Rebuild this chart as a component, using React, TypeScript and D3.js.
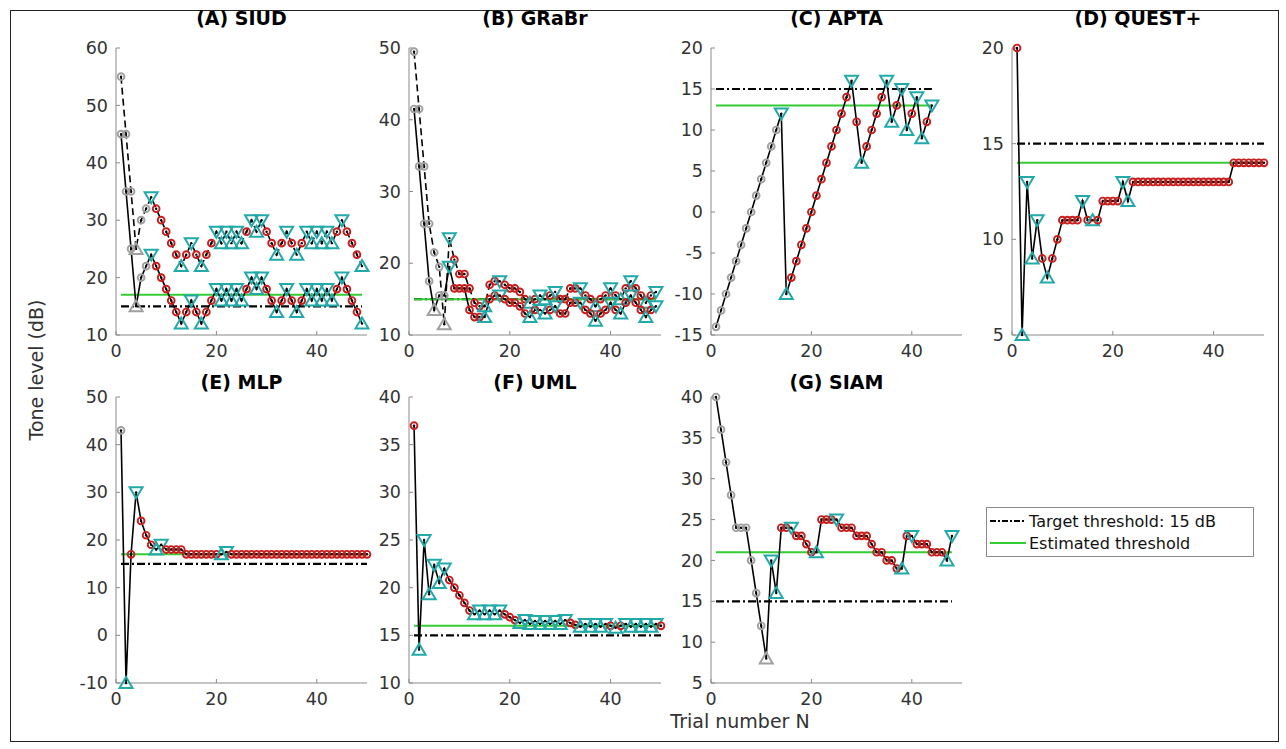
import React from "react";
import * as d3 from "d3";

// trial-by-trial tone levels (dB)
// marker codes: g gray circle, a gray up-tri, o red circle, v peak reversal, ^ trough reversal
const siudUpper = [55, 45, 35, 25, 30, 32, 34, 32, 30, 28, 26, 24, 22, 24, 26, 24, 22, 24, 26, 28, 26, 28, 26, 28, 26, 28, 30, 28, 30, 28, 26, 24, 26, 28, 26, 24, 26, 28, 26, 28, 26, 28, 26, 28, 30, 28, 26, 24, 22];
const siudLower = [45, 35, 25, 15, 20, 22, 24, 22, 20, 18, 16, 14, 12, 14, 16, 14, 12, 14, 16, 18, 16, 18, 16, 18, 16, 18, 20, 18, 20, 18, 16, 14, 16, 18, 16, 14, 16, 18, 16, 18, 16, 18, 16, 18, 20, 18, 16, 14, 12];
const siudMarks = "gggaggvooooo^ovo^oov^v^v^ov^voo^ovo^ov^v^v^ovooo^";

const grabrUpper = [49.5, 41.5, 33.5, 25.5, 21.5, 19.5, 11.5, 23.5, 20.5, 18.5, 18.5, 16.5, 14.5, 14, 14, 17, 17.5, 17.5, 17, 16.5, 16.5, 16, 15, 14.5, 15, 15.5, 15, 15.5, 16, 15, 15, 16.5, 16.5, 16.5, 15.5, 15, 14, 15, 15.5, 16.5, 15.5, 15, 16.5, 17.5, 16.5, 15.5, 14.5, 15.5, 16];
const grabrLower = [41.5, 33.5, 25.5, 17.5, 13.5, 15.5, 15.5, 19.5, 16.5, 16.5, 16.5, 13.5, 12.5, 12.5, 12.5, 15, 15.5, 15.5, 15, 14.5, 14.5, 14, 13, 12.5, 13.5, 13.5, 13, 13.5, 14, 13, 13, 14.5, 14.5, 14.5, 13.5, 13, 12, 13, 13.5, 14.5, 13.5, 13, 14.5, 15.5, 14.5, 13.5, 12.5, 13.5, 14];
const grabrUpperMarks = "ggggggavoooooo^oovooooo^ov^ovoooovoo^oovo^ovoo^ov";
const grabrLowerMarks = "ggggaggvoooooo^oovooooo^ov^ovoooovoo^oovo^ovoo^ov";

const aptaLevels = [-14, -12, -10, -8, -6, -4, -2, 0, 2, 4, 6, 8, 10, 12, -10, -8, -6, -4, -2, 0, 2, 4, 6, 8, 10, 12, 14, 16, 11, 6, 8, 10, 12, 14, 16, 11, 13, 15, 10, 12, 14, 9, 11, 13];
const aptaMarks = "gggggggggggggv^oooooooooooovo^oooov^ov^ov^ov";

const questLevels = [20, 5, 13, 9, 11, 9, 8, 9, 10, 11, 11, 11, 11, 12, 11, 11, 11, 12, 12, 12, 12, 13, 12, 13, 13, 13, 13, 13, 13, 13, 13, 13, 13, 13, 13, 13, 13, 13, 13, 13, 13, 13, 13, 14, 14, 14, 14, 14, 14, 14];
const questMarks = "o^v^vo^oooooovo^ooooov^";

const mlpLevels = [43, -10, 17, 30, 24, 21, 19, 18, 19, 18, 18, 18, 18, 17, 17, 17, 17, 17, 17, 17, 17, 17.5, 17, 17, 17, 17, 17, 17, 17, 17, 17, 17, 17, 17, 17, 17, 17, 17, 17, 17, 17, 17, 17, 17, 17, 17, 17, 17, 17, 17];
const mlpMarks = "g^ovooo^vooooooooooo^v";

const umlLevels = [37, 13.5, 25, 19.3, 22.4, 20.5, 22, 20.8, 20, 19.2, 18.4, 17.6, 17.2, 17.6, 17.2, 17.6, 17.2, 17.6, 17.2, 16.9, 16.6, 16.3, 16.6, 16.2, 16.5, 16.2, 16.5, 16.2, 16.5, 16.2, 16.6, 16.3, 16.1, 15.9, 16.2, 15.9, 16.2, 15.9, 16.2, 16, 15.8, 16, 16.2, 15.9, 16.2, 15.9, 16.2, 15.9, 16.2, 16];
const umlMarks = "o^v^v^vooooo^v^v^vooo^v^v^v^v^voo^v^v^vo^ov^v^v^vo";

const siamLevels = [40, 36, 32, 28, 24, 24, 24, 20, 16, 12, 8, 20, 16, 24, 24, 24, 23, 23, 22, 21, 21, 25, 25, 25, 25, 24, 24, 24, 23, 23, 23, 22, 21, 21, 20, 20, 19, 19, 23, 23, 22, 22, 22, 21, 21, 21, 20, 23];
const siamMarks = "ggggggggggav^oovoooo^ooovoooooooooooo^ovoooooo^v";

const titles = ["(A) SIUD", "(B) GRaBr", "(C) APTA", "(D) QUEST+", "(E) MLP", "(F) UML", "(G) SIAM"];
const estimated = [17, 15, 13, 14, 17, 16, 21];
const target = 15;
const xTicks = [0, 20, 40];

const panels = [
  { col: 0, row: 0, y: [10, 60], ticks: [10, 20, 30, 40, 50, 60], tracks: [{ v: siudUpper, m: siudMarks, dashed: true }, { v: siudLower, m: siudMarks }] },
  { col: 1, row: 0, y: [10, 50], ticks: [10, 20, 30, 40, 50], tracks: [{ v: grabrUpper, m: grabrUpperMarks, dashed: true }, { v: grabrLower, m: grabrLowerMarks }] },
  { col: 2, row: 0, y: [-15, 20], ticks: [-15, -10, -5, 0, 5, 10, 15, 20], tracks: [{ v: aptaLevels, m: aptaMarks }] },
  { col: 3, row: 0, y: [5, 20], ticks: [5, 10, 15, 20], tracks: [{ v: questLevels, m: questMarks }] },
  { col: 0, row: 1, y: [-10, 50], ticks: [-10, 0, 10, 20, 30, 40, 50], tracks: [{ v: mlpLevels, m: mlpMarks }] },
  { col: 1, row: 1, y: [10, 40], ticks: [10, 15, 20, 25, 30, 35, 40], tracks: [{ v: umlLevels, m: umlMarks }] },
  { col: 2, row: 1, y: [5, 40], ticks: [5, 10, 15, 20, 25, 30, 35, 40], tracks: [{ v: siamLevels, m: siamMarks }] },
];

const colX = [[116, 367], [409, 661], [711, 962], [1012, 1264]];
const rowY = [[335, 48], [683, 397]];
const titleY = [25, 389];

const FONT = "DejaVu Sans, sans-serif";
const RED = "#c81e1e";
const TEAL = "#22a9a9";
const GRAY = "#a0a0a0";
const GREEN = "#33cc33";

function Marker({ x, y, code }: { x: number; y: number; code: string }) {
  const col = code === "o" ? RED : code === "v" || code === "^" ? TEAL : GRAY;
  let shape;
  if (code === "v" || code === "b") {
    shape = <path d={`M${x},${y + 6}L${x + 6.5},${y - 5}L${x - 6.5},${y - 5}Z`} fill="none" stroke={col} strokeWidth={2} />;
  } else if (code === "^" || code === "a") {
    shape = <path d={`M${x},${y - 6}L${x + 6.5},${y + 5}L${x - 6.5},${y + 5}Z`} fill="none" stroke={col} strokeWidth={2} />;
  } else {
    shape = <circle cx={x} cy={y} r={3.4} fill="none" stroke={col} strokeWidth={1.9} />;
  }
  return (
    <g>
      {shape}
      <circle cx={x} cy={y} r={1.2} fill="#000" />
    </g>
  );
}

function Panel({ p, i }: { p: any; i: number }) {
  const x = d3.scaleLinear().domain([0, 50]).range(colX[p.col]);
  const y = d3.scaleLinear().domain(p.y).range(rowY[p.row]);
  const line = d3.line<number>().x((_, k) => x(k + 1)).y((d) => y(d));
  const [x0, x1] = colX[p.col];
  const [yb, yt] = rowY[p.row];
  const n = Math.max(...p.tracks.map((t: any) => t.v.length));
  return (
    <g>
      <text x={(x0 + x1) / 2} y={titleY[p.row]} textAnchor="middle" fontFamily={FONT} fontWeight="bold" fontSize={19} fill="#000">
        {titles[i]}
      </text>
      <line x1={x0} x2={x0} y1={yb} y2={yt} stroke="#8a8a8a" />
      <line x1={x0} x2={x1} y1={yb} y2={yb} stroke="#8a8a8a" />
      {p.ticks.map((t: number) => (
        <g key={"y" + t}>
          <line x1={x0} x2={x0 + 4} y1={y(t)} y2={y(t)} stroke="#8a8a8a" />
          <text x={x0 - 8} y={y(t)} dy="0.35em" textAnchor="end" fontFamily={FONT} fontSize={17.5} fill="#333">
            {t}
          </text>
        </g>
      ))}
      {xTicks.map((t) => (
        <g key={"x" + t}>
          <line x1={x(t)} x2={x(t)} y1={yb} y2={yb - 4} stroke="#8a8a8a" />
          <text x={x(t)} y={yb + 22} textAnchor="middle" fontFamily={FONT} fontSize={17.5} fill="#333">
            {t}
          </text>
        </g>
      ))}
      <line x1={x(1)} x2={x(n)} y1={y(target)} y2={y(target)} stroke="#000" strokeWidth={2.2} strokeDasharray="8,3,2,3" />
      <line x1={x(1)} x2={x(n)} y1={y(estimated[i])} y2={y(estimated[i])} stroke={GREEN} strokeWidth={2} />
      {p.tracks.map((t: any, k: number) => (
        <path key={"l" + k} d={line(t.v) || ""} fill="none" stroke="#000" strokeWidth={1.6} strokeDasharray={t.dashed ? "7,4" : undefined} />
      ))}
      {p.tracks.map((t: any, k: number) =>
        t.v.map((v: number, j: number) => <Marker key={k + "-" + j} x={x(j + 1)} y={y(v)} code={t.m[j] || "o"} />)
      )}
    </g>
  );
}

export default function App() {
  return (
    <svg width={1286} height={749} style={{ position: "absolute", left: 0, top: 0, background: "#fff" }}>
      <rect x={0} y={0} width={1286} height={749} fill="#fff" />
      <rect x={10.5} y={10.5} width={1268} height={731} fill="none" stroke="#222" />
      {panels.map((p, i) => (
        <Panel key={i} p={p} i={i} />
      ))}
      <text transform="translate(43,370) rotate(-90)" textAnchor="middle" fontFamily={FONT} fontSize={19} fill="#333">
        Tone level (dB)
      </text>
      <text x={740} y={728} textAnchor="middle" fontFamily={FONT} fontSize={19} fill="#333">
        Trial number N
      </text>
      <g>
        <rect x={986.5} y={507.5} width={267} height={49} fill="#fff" stroke="#8a8a8a" />
        <line x1={990} x2={1026} y1={521} y2={521} stroke="#000" strokeWidth={2.2} strokeDasharray="6,2,2,2" />
        <text x={1029} y={521} dy="0.35em" fontFamily={FONT} fontSize={16} fill="#111">
          Target threshold: 15 dB
        </text>
        <line x1={990} x2={1026} y1={543} y2={543} stroke={GREEN} strokeWidth={2} />
        <text x={1029} y={543} dy="0.35em" fontFamily={FONT} fontSize={16} fill="#111">
          Estimated threshold
        </text>
      </g>
    </svg>
  );
}
